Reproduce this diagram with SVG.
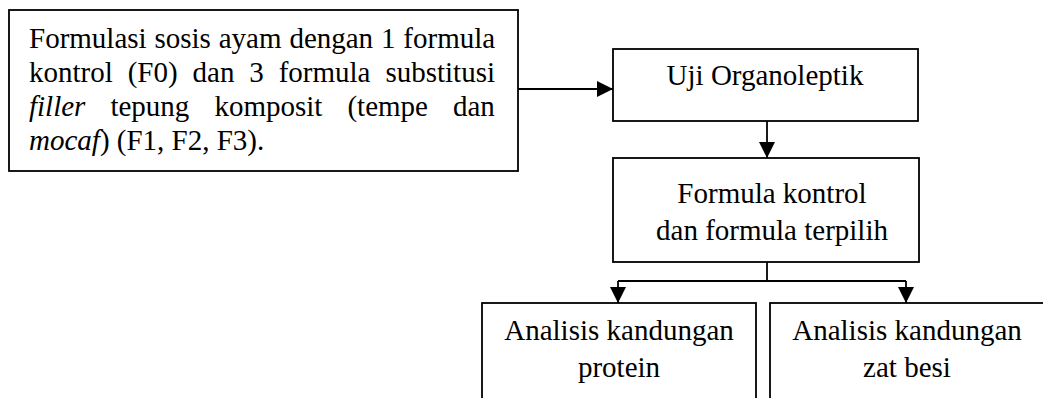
<svg xmlns="http://www.w3.org/2000/svg" width="1043" height="398" viewBox="0 0 1043 398">
<style>
.box{fill:#fff;stroke:#000;stroke-width:1.8}
.t{font-family:"Liberation Serif","Times New Roman",serif;font-size:29px;fill:#000}
.c{text-anchor:middle}
.ln{fill:none;stroke:#000;stroke-width:1.8}
</style>
<defs>
<marker id="ah" markerUnits="userSpaceOnUse" markerWidth="16" markerHeight="16" refX="16" refY="8" orient="auto">
<path d="M0,0 L16,8 L0,16 z" fill="#000"/>
</marker>
</defs>
<g id="connectors">
<path class="ln" d="M518,89 L613,89" marker-end="url(#ah)"/>
<path class="ln" d="M767,121 L767,158" marker-end="url(#ah)"/>
<path class="ln" d="M767,262 L767,281"/>
<path class="ln" d="M618,281 L906,281"/>
<path class="ln" d="M618,281 L618,303" marker-end="url(#ah)"/>
<path class="ln" d="M906,281 L906,303" marker-end="url(#ah)"/>
</g>
<g id="node-formulasi">
<rect class="box" x="9" y="10" width="509" height="161"/>
<text class="t" x="29" y="48" word-spacing="0.6">Formulasi sosis ayam dengan 1 formula</text>
<text class="t" x="29" y="82" word-spacing="7.65">kontrol (F0) dan 3 formula substitusi</text>
<text class="t" x="29" y="116" word-spacing="17.8"><tspan font-style="italic">filler</tspan> tepung komposit (tempe dan</text>
<text class="t" x="29" y="150"><tspan font-style="italic">mocaf</tspan>) (F1, F2, F3).</text>
</g>
<g id="node-uji">
<rect class="box" x="613" y="49" width="305" height="72"/>
<text class="t c" x="765" y="85">Uji Organoleptik</text>
</g>
<g id="node-formula">
<rect class="box" x="613" y="158" width="306" height="104"/>
<text class="t c" x="772" y="203">Formula kontrol</text>
<text class="t c" x="772" y="240">dan formula terpilih</text>
</g>
<g id="node-protein">
<rect class="box" x="482" y="303" width="274" height="110"/>
<text class="t c" x="619" y="340">Analisis kandungan</text>
<text class="t c" x="619" y="377">protein</text>
</g>
<g id="node-besi">
<rect class="box" x="770" y="303" width="280" height="110"/>
<text class="t c" x="907" y="340">Analisis kandungan</text>
<text class="t c" x="907" y="377">zat besi</text>
</g>
</svg>
